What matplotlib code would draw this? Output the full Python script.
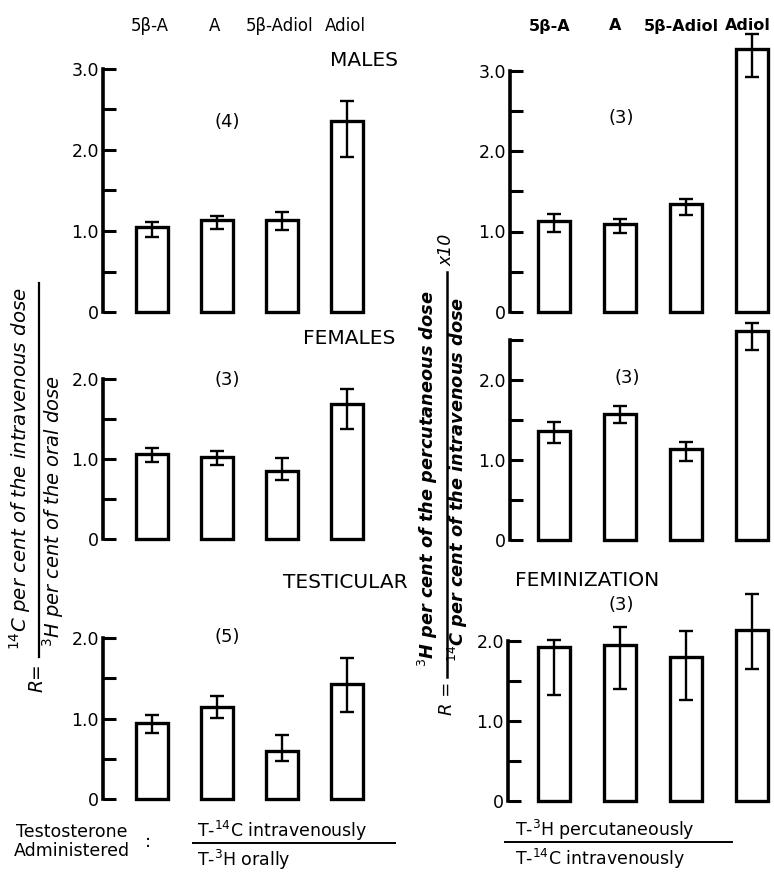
import matplotlib
matplotlib.use("Agg")
import matplotlib.pyplot as plt
import matplotlib.transforms as mtransforms
from matplotlib.lines import Line2D
import numpy as np

# ---------------- data ----------------
categories = ["5β-A", "A", "5β-Adiol", "Adiol"]

males_mean = [1.05, 1.13, 1.14, 2.36]
males_lo = [0.92, 1.02, 1.01, 1.91]
males_hi = [1.11, 1.19, 1.23, 2.61]

females_mean = [1.06, 1.02, 0.85, 1.69]
females_lo = [0.96, 0.93, 0.74, 1.38]
females_hi = [1.14, 1.10, 1.01, 1.87]

testicular_mean = [0.94, 1.14, 0.60, 1.43]
testicular_lo = [0.82, 1.01, 0.47, 1.08]
testicular_hi = [1.04, 1.28, 0.79, 1.75]

perc_males_mean = [1.13, 1.09, 1.34, 3.27]
perc_males_lo = [1.00, 0.98, 1.21, 2.92]
perc_males_hi = [1.22, 1.16, 1.40, 3.45]

perc_females_mean = [1.36, 1.58, 1.14, 2.61]
perc_females_lo = [1.21, 1.46, 0.99, 2.38]
perc_females_hi = [1.47, 1.67, 1.22, 2.71]

feminization_mean = [1.93, 1.95, 1.80, 2.14]
feminization_lo = [1.33, 1.40, 1.26, 1.65]
feminization_hi = [2.01, 2.18, 2.13, 2.59]

n_labels = ["(4)", "(3)", "(5)", "(3)", "(3)", "(3)"]
group_titles = ["MALES", "FEMALES", "TESTICULAR", "FEMINIZATION"]
ytick_vals = [0, 1, 2, 3]
ytick_text = ["0", "1.0", "2.0", "3.0"]

# ---------------- figure ----------------
W, H = 774, 875
fig = plt.figure(figsize=(W / 100, H / 100), dpi=100)
plt.rcParams['font.family'] = ['DejaVu Sans']


def fx(x):
    return x / W


def fy(y):
    return 1 - y / H


def make_panel(left_px, y0_px, ppu, xl, xr, dx, ymax, spine_top, mean, lo, hi):
    width_px = (xr - xl) * dx
    ax = fig.add_axes([fx(left_px), fy(y0_px), width_px / W, ymax * ppu / H])
    ax.set_xlim(xl, xr)
    ax.set_ylim(0, ymax)
    ax.patch.set_visible(False)
    x = np.arange(len(mean))
    m = np.array(mean)
    ax.bar(x, m, width=0.48, fill=False, edgecolor="black", linewidth=2.4,
           clip_on=False, zorder=2)
    ax.errorbar(x, m, yerr=[m - np.array(lo), np.array(hi) - m], fmt="none",
                ecolor="black", elinewidth=1.7, capsize=5, capthick=1.7, zorder=3)
    for s in ["top", "right", "bottom"]:
        ax.spines[s].set_visible(False)
    ax.spines["left"].set_linewidth(2.6)
    ax.spines["left"].set_bounds(0, spine_top)
    ax.spines["left"].set_capstyle("projecting")
    ticks = [t for t in ytick_vals if t <= spine_top]
    ax.set_yticks(ticks)
    ax.set_yticklabels([ytick_text[t] for t in ticks])
    ax.set_yticks(np.arange(0.5, spine_top + 0.01, 1.0), minor=True)
    ax.tick_params(axis="y", which="both", direction="in", length=9, width=2.2,
                   labelsize=12.5, pad=3)
    ax.set_xticks([])
    return ax


# left column: x positions -> pixels 152 + 65*i, spine at 103
L_left, L_dx, L_xl, L_xr = 103, 65, -0.754, 3.45
R_left, R_dx, R_xl, R_xr = 510, 66, -0.667, 3.3

ax1 = make_panel(L_left, 312, 81, L_xl, L_xr, L_dx, 3.3, 3, males_mean, males_lo, males_hi)
ax2 = make_panel(L_left, 539, 80, L_xl, L_xr, L_dx, 2.1, 2, females_mean, females_lo, females_hi)
ax3 = make_panel(L_left, 799, 80.5, L_xl, L_xr, L_dx, 2.1, 2, testicular_mean, testicular_lo, testicular_hi)
ax4 = make_panel(R_left, 312, 80.5, R_xl, R_xr, R_dx, 3.55, 3, perc_males_mean, perc_males_lo, perc_males_hi)
ax5 = make_panel(R_left, 540, 80, R_xl, R_xr, R_dx, 2.8, 2.5, perc_females_mean, perc_females_lo, perc_females_hi)
ax6 = make_panel(508, 801, 80, -0.697, R_xr, R_dx, 2.7, 2, feminization_mean, feminization_lo, feminization_hi)

# category labels on top
for ax, weight, size, shift in [(ax1, "normal", 12, -0.03), (ax4, "bold", 11.5, -0.07)]:
    tr = mtransforms.blended_transform_factory(ax.transData, fig.transFigure)
    for i, c in enumerate(categories):
        ax.text(i + shift, fy(26), c, transform=tr, ha="center", va="center",
                fontsize=size, fontweight=weight)

# group titles
fig.text(fx(330), fy(60), "MALES", ha="left", va="center", fontsize=14.5)
fig.text(fx(303), fy(339), "FEMALES", ha="left", va="center", fontsize=14.5)
fig.text(fx(283), fy(582), "TESTICULAR", ha="left", va="center", fontsize=14.5)
fig.text(fx(515), fy(580), "FEMINIZATION", ha="left", va="center", fontsize=14.5)

# n labels
for (x, y), s in zip([(227, 122), (227, 380), (227, 637), (621, 118), (627, 378), (621, 605)], n_labels):
    fig.text(fx(x), fy(y), s, ha="center", va="center", fontsize=13)

# left y-axis label (rotated fraction)
fig.text(fx(20), fy(469), r"$^{14}$C per cent of the intravenous dose", rotation=90,
         ha="center", va="center", fontsize=14.2, style="italic")
fig.text(fx(53), fy(511), r"$^{3}$H per cent of the oral dose", rotation=90,
         ha="center", va="center", fontsize=14, style="italic")
fig.add_artist(Line2D([fx(39), fx(39)], [fy(283), fy(657)], color="black", lw=1.6,
                      transform=fig.transFigure))
fig.text(fx(37), fy(678), "R=", rotation=90, ha="center", va="center",
         fontsize=13.5, style="italic")

# right y-axis label (rotated fraction)
fig.text(fx(428), fy(479), r"$^{3}$H per cent of the percutaneous dose", rotation=90,
         ha="center", va="center", fontsize=12.8, style="italic", fontweight="bold")
fig.text(fx(458), fy(479), r"$^{14}$C per cent of the intravenous dose", rotation=90,
         ha="center", va="center", fontsize=12.8, style="italic", fontweight="bold")
fig.add_artist(Line2D([fx(447), fx(447)], [fy(272), fy(677)], color="black", lw=1.8,
                      transform=fig.transFigure))
fig.text(fx(447), fy(698), "R =", rotation=90, ha="center", va="center",
         fontsize=13, style="italic")
fig.text(fx(446), fy(250), "x10", rotation=90, ha="center", va="center",
         fontsize=12.5, style="italic")

# bottom annotation
fig.text(fx(72), fy(832), "Testosterone", ha="center", va="center", fontsize=12.5)
fig.text(fx(72), fy(851), "Administered", ha="center", va="center", fontsize=12.5)
fig.text(fx(148), fy(842), ":", ha="center", va="center", fontsize=13)
fig.text(fx(197), fy(831), r"T-$^{14}$C intravenously", ha="left", va="center", fontsize=12.5)
fig.add_artist(Line2D([fx(193), fx(395)], [fy(843), fy(843)], color="black", lw=1.4,
                      transform=fig.transFigure))
fig.text(fx(197), fy(860), r"T-$^{3}$H orally", ha="left", va="center", fontsize=12.5)

fig.text(fx(515), fy(830), r"T-$^{3}$H percutaneously", ha="left", va="center", fontsize=12.5)
fig.add_artist(Line2D([fx(505), fx(732)], [fy(842), fy(842)], color="black", lw=1.4,
                      transform=fig.transFigure))
fig.text(fx(515), fy(859), r"T-$^{14}$C intravenously", ha="left", va="center", fontsize=12.5)

fig.savefig("out.png", dpi=100)
